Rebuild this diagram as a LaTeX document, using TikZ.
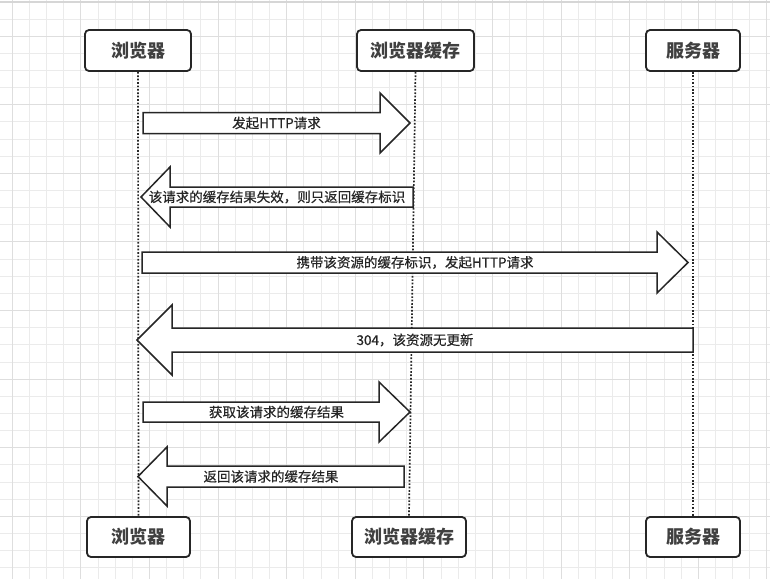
\documentclass[tikz,border=0pt]{standalone}
\usepackage{fontspec}
\newfontfamily\cjk{Noto Sans CJK SC}
\newfontfamily\cjkm[FakeBold=0.5]{Noto Sans CJK SC}
\usetikzlibrary{calc}
\tikzset{
  actor/.style={draw=black!85, line width=1.8pt, rounded corners=4pt, fill=white, inner sep=0pt,
    font=\cjk\bfseries\fontsize{18}{20}\selectfont, text=black!75},
  lifeline/.style={line width=1.7pt, dash pattern=on 1.7pt off 1.7pt, black!85},
  fat/.style={draw=black!85, line width=1.5pt, fill=white, line join=miter},
  msg/.style={font=\cjkm\fontsize{13.5}{16}\selectfont, text=black!85, inner sep=0pt},
  gridminor/.style={black!8, line width=1pt},
  gridmajor/.style={black!13, line width=1pt},
}
% name, tail x, head-base x, tip x, centre y, body half, head half, label
\newcommand\fatarrow[8]{%
  \draw[fat] (#2,#5-#6) -- (#3,#5-#6) -- (#3,#5-#7) -- (#4,#5) -- (#3,#5+#7) -- (#3,#5+#6) -- (#2,#5+#6) -- cycle;
  \node[msg] (#1) at ({(#2+#4)/2},#5) {#8};
}
\begin{document}
\begin{tikzpicture}[x=1pt,y=-1pt]
\useasboundingbox (0,0) rectangle (770,579);
\fill[white] (0,0) rectangle (770,579);
% grid
\foreach \k in {0,...,44} {\draw[gridminor] ({12.3+17.15*\k},0) -- ({12.3+17.15*\k},579);}
\foreach \k in {0,...,33} {\draw[gridminor] (0,{1.85+17.15*\k}) -- (770,{1.85+17.15*\k});}
\foreach \k in {0,4,...,44} {\draw[gridmajor] ({12.3+17.15*\k},0) -- ({12.3+17.15*\k},579);}
\foreach \k in {1,5,...,33} {\draw[gridmajor] (0,{19+17.15*\k}) -- (770,{19+17.15*\k});}
\draw[black!16, line width=2pt] (0,1.5) -- (770,1.5);
% actors
\node[actor, minimum width=106pt, minimum height=41pt] (b1t) at (138,50.5) {浏览器};
\node[actor, minimum width=117pt, minimum height=41pt] (b2t) at (415.5,50.5) {浏览器缓存};
\node[actor, minimum width=94pt, minimum height=41pt] (b3t) at (693,50.5) {服务器};
\node[actor, minimum width=103pt, minimum height=40pt] (b1b) at (138.5,537) {浏览器};
\node[actor, minimum width=114pt, minimum height=40pt] (b2b) at (409,537) {浏览器缓存};
\node[actor, minimum width=94pt, minimum height=40pt] (b3b) at (693,537) {服务器};
% lifelines
\draw[lifeline] (b1t.south) -- (b1b.north);
\draw[lifeline] (b2t.south) -- (b2b.north);
\draw[lifeline] (b3t.south) -- (b3b.north);
% messages
\fatarrow{m1}{143}{380}{410}{123}{10.5}{30}{发起HTTP请求}
\fatarrow{m2}{413}{170}{141}{197}{10}{30}{该请求的缓存结果失效，则只返回缓存标识}
\fatarrow{m3}{142}{657}{688}{262.5}{10.5}{30.5}{携带该资源的缓存标识，发起HTTP请求}
\fatarrow{m4}{693}{172}{137}{340}{12}{35}{304，该资源无更新}
\fatarrow{m5}{143}{379}{410}{412}{10}{30}{获取该请求的缓存结果}
\fatarrow{m6}{404}{167}{138}{476.5}{10.5}{29.5}{返回该请求的缓存结果}
\end{tikzpicture}
\end{document}
